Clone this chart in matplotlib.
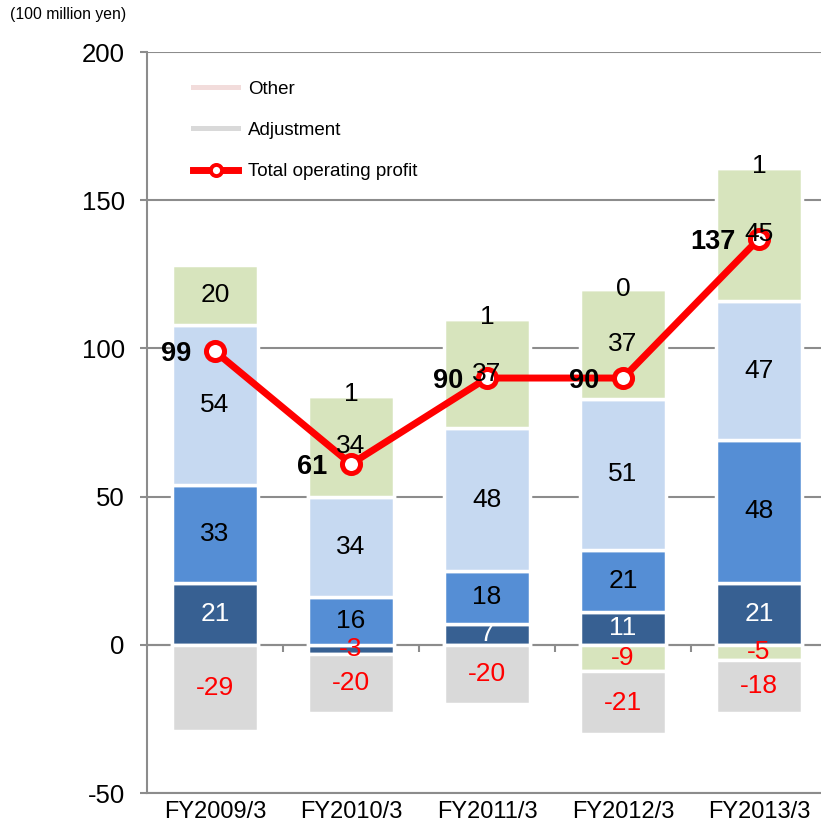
import numpy as np
import matplotlib.pyplot as plt
from matplotlib.lines import Line2D

plt.rcParams['font.family'] = ['Liberation Sans', 'DejaVu Sans']
plt.rcParams['axes.unicode_minus'] = False

# =====================================
# data (100 million yen)
# =====================================
categories = ["FY2009/3", "FY2010/3", "FY2011/3", "FY2012/3", "FY2013/3"]

seg_dark = [21, -3, 7, 11, 21]
seg_mid = [33, 16, 18, 21, 48]
seg_light = [54, 34, 48, 51, 47]
seg_green = [20, 34, 37, 37, 45]
seg_green_neg = [np.nan, np.nan, np.nan, -9, -5]
other = [np.nan, 1, 1, 0, 1]
adjustment = [-29, -20, -20, -21, -18]
total_op = [99, 61, 90, 90, 137]
# =====================================

GRID = "#8c8c8c"
RED = "#ff0000"

series = [
    (seg_dark, "#376092", "white"),
    (seg_mid, "#558ed5", "black"),
    (seg_light, "#c6d9f1", "black"),
    (seg_green, "#d7e4bd", "black"),
    (seg_green_neg, "#d7e4bd", "black"),
    (other, "#f2dcdb", "black"),
    (adjustment, "#d9d9d9", "black"),
]

fig = plt.figure(figsize=(8.21, 8.30), dpi=100)
ax = fig.add_axes([147 / 821, 37 / 830, 680 / 821, 741 / 830])

x = np.arange(len(categories))
pos_base = np.zeros(len(categories))
neg_base = np.zeros(len(categories))

for vals, color, txt_color in series:
    vals = np.array(vals, dtype=float)
    for i, v in enumerate(vals):
        if np.isnan(v):
            continue
        if v >= 0:
            bottom = pos_base[i]
            pos_base[i] += v
        else:
            bottom = neg_base[i]
            neg_base[i] += v
        ax.bar(x[i], v, bottom=bottom, width=0.63, color=color,
               edgecolor="white", linewidth=2.5, zorder=2)
        c = RED if v < 0 else txt_color
        ax.text(x[i], bottom + v / 2, f"{v:.0f}", ha="center", va="center",
                fontsize=19, color=c, zorder=6)

# total operating profit line
ax.plot(x, total_op, color=RED, lw=5, marker="o", ms=13,
        markerfacecolor="white", markeredgecolor=RED, markeredgewidth=3.6,
        zorder=4)
for i, v in enumerate(total_op):
    ax.annotate(f"{v}", (x[i], v), xytext=(-17, -2), textcoords="offset points",
                ha="right", va="center", fontsize=19.5, fontweight="bold",
                zorder=7)

ax.set_xlim(-0.5, 4.5)
ax.set_ylim(-50, 200)
ax.set_yticks([-50, 0, 50, 100, 150, 200])
ax.tick_params(axis="y", labelsize=18.5, length=5, width=1.5, color=GRID, pad=11)
ax.set_xticks(x, categories)
ax.tick_params(axis="x", labelsize=17, length=0, pad=6)
ax.yaxis.grid(True, color=GRID, lw=1.5)
ax.set_axisbelow(True)

for s in ["top", "right"]:
    ax.spines[s].set_visible(False)
for s in ["left", "bottom"]:
    ax.spines[s].set_color(GRID)
    ax.spines[s].set_linewidth(1.5)

# zero line with category separators
secax = ax.secondary_xaxis(0.2)
secax.set_xticks([0.5, 1.5, 2.5, 3.5], ["", "", "", ""])
secax.tick_params(axis="x", direction="out", length=5, width=1.5, color=GRID)
secax.spines["bottom"].set_color(GRID)
secax.spines["bottom"].set_linewidth(1.5)

handles = [
    Line2D([], [], color="#f2dcdb", lw=3.6),
    Line2D([], [], color="#d9d9d9", lw=3.6),
    Line2D([], [], color=RED, lw=5, marker="o", ms=8, markerfacecolor="white",
           markeredgecolor=RED, markeredgewidth=2.8),
]
ax.legend(handles, ["Other", "Adjustment", "Total operating profit"],
          loc="upper left", bbox_to_anchor=(0.043, 0.984), frameon=False,
          fontsize=13.5, handlelength=2.4, handletextpad=0.55, labelspacing=1.28)

fig.text(10 / 821, 1 - 14 / 830, "(100 million yen)", fontsize=11.3,
         ha="left", va="center")

fig.savefig("out.png", dpi=100)
